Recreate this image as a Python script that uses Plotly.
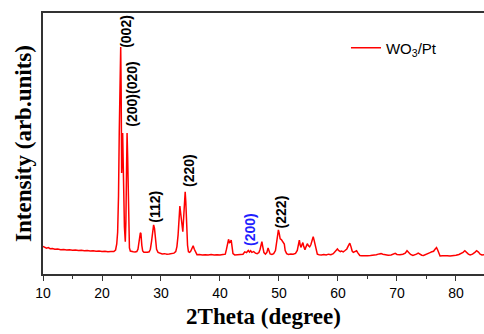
import plotly.graph_objects as go

two_theta = [
    10.0, 10.3, 10.6, 10.9, 11.2, 11.6, 12.0, 12.5, 13.0, 13.5, 14.0, 14.5, 15.0, 15.5, 16.0, 16.5,
    17.0, 17.5, 18.0, 18.5, 19.0, 19.5, 20.0, 20.5, 21.0, 21.5, 22.0, 22.3, 22.5, 22.65, 22.8, 22.93,
    23.05, 23.17, 23.25, 23.33, 23.42, 23.5, 23.58, 23.68, 23.8, 23.95, 24.05, 24.15, 24.25, 24.35,
    24.45, 24.55, 24.65, 24.8, 25.0, 25.3, 25.6, 25.9, 26.1, 26.3, 26.5, 26.6, 26.75, 26.9, 27.1,
    27.4, 27.7, 28.0, 28.2, 28.4, 28.6, 28.75, 28.9, 29.05, 29.25, 29.5, 29.8, 30.2, 30.6, 31.0,
    31.4, 31.8, 32.2, 32.5, 32.7, 32.9, 33.05, 33.2, 33.35, 33.55, 33.7, 33.85, 34.0, 34.1, 34.2,
    34.35, 34.5, 34.65, 34.85, 35.05, 35.25, 35.45, 35.65, 35.85, 36.1, 36.5, 37.0, 37.5, 38.0,
    38.5, 39.0, 39.5, 40.0, 40.5, 40.9, 41.1, 41.3, 41.45, 41.6, 41.75, 41.9, 42.05, 42.2, 42.5,
    43.0, 43.5, 43.9, 44.2, 44.5, 44.8, 45.0, 45.2, 45.4, 45.7, 46.0, 46.3, 46.6, 46.8, 47.0, 47.1,
    47.25, 47.45, 47.7, 47.95, 48.15, 48.3, 48.5, 48.8, 49.1, 49.4, 49.6, 49.8, 49.9, 50.05, 50.2,
    50.4, 50.55, 50.75, 50.9, 51.05, 51.3, 51.6, 52.0, 52.4, 52.8, 53.1, 53.3, 53.45, 53.6, 53.75,
    53.9, 54.05, 54.2, 54.4, 54.6, 54.8, 55.0, 55.2, 55.4, 55.6, 55.8, 55.95, 56.1, 56.3, 56.5,
    56.8, 57.2, 57.6, 58.0, 58.4, 58.8, 59.2, 59.5, 59.75, 59.9, 60.1, 60.4, 60.6, 60.9, 61.2, 61.5,
    61.75, 62.0, 62.2, 62.4, 62.6, 62.9, 63.15, 63.4, 63.7, 64.0, 64.5, 65.0, 65.5, 66.0, 66.5,
    67.0, 67.3, 67.6, 68.0, 68.5, 69.0, 69.4, 69.7, 70.0, 70.5, 71.0, 71.4, 71.7, 72.0, 72.3, 72.7,
    73.0, 73.3, 73.6, 73.9, 74.2, 74.5, 74.9, 75.3, 75.6, 75.9, 76.2, 76.45, 76.7, 76.9, 77.1, 77.3,
    77.7, 78.1, 78.5, 79.0, 79.5, 80.0, 80.5, 80.9, 81.2, 81.5, 81.8, 82.1, 82.4, 82.8, 83.2, 83.5,
    83.8, 84.1, 84.4, 84.7, 85.0,
]
intensity = [
    10.6, 10.2, 9.9, 10.1, 9.7, 9.8, 9.5, 9.6, 9.3, 9.4, 9.2, 9.3, 9.1, 9.2, 9.0, 9.1,
    8.9, 9.0, 8.8, 8.9, 8.7, 8.8, 8.6, 8.7, 8.5, 8.6, 8.6, 9.2, 11.5, 16.0, 30.0, 55.0,
    75.0, 87.0, 70.0, 38.7, 45.0, 54.0, 44.0, 30.0, 18.0, 12.4, 20.0, 38.0, 54.0, 45.0,
    28.0, 14.0, 10.0, 8.8, 8.6, 8.5, 8.4, 8.6, 9.5, 12.0, 15.8, 15.5, 11.0, 8.8, 8.3,
    8.2, 8.3, 8.5, 9.5, 12.5, 17.0, 18.8, 17.5, 13.0, 9.5, 8.3, 7.9, 7.7, 7.8, 7.6,
    7.7, 7.8, 8.0, 8.6, 10.5, 15.0, 22.0, 26.0, 23.0, 17.0, 16.2, 22.0, 29.0, 31.5, 28.0,
    18.0, 11.0, 8.5, 8.3, 8.8, 10.0, 10.8, 9.5, 8.2, 7.4, 7.5, 7.3, 7.4, 7.3,
    7.5, 7.3, 7.4, 7.3, 7.5, 7.6, 9.5, 12.5, 13.3, 12.0, 12.2, 13.0, 10.5, 7.8, 7.3,
    7.4, 7.3, 7.6, 8.5, 8.2, 9.0, 8.4, 8.9, 8.3, 8.6, 8.0, 7.8, 8.2, 9.5, 11.5, 12.4,
    10.5, 8.2, 7.6, 8.3, 10.0, 9.2, 7.7, 7.5, 7.8, 9.0, 12.0, 15.5, 16.9, 15.5, 13.5,
    13.2, 12.8, 12.0, 11.5, 9.0, 7.8, 7.5, 7.7, 7.6, 7.9, 9.0, 11.5, 13.0, 11.0, 10.2,
    11.3, 12.0, 10.5, 9.3, 10.5, 11.6, 10.8, 10.4, 11.2, 13.0, 14.3, 13.0, 11.5, 9.0, 7.6,
    7.4, 7.3, 7.5, 7.3, 7.6, 7.4, 7.8, 8.6, 9.4, 9.6, 9.0, 8.6, 8.8, 8.5, 9.0, 9.6,
    10.8, 11.8, 10.5, 8.8, 8.3, 8.7, 8.9, 8.0, 7.1, 7.0, 6.9, 7.0, 7.1, 7.2, 7.4,
    7.7, 7.8, 7.6, 7.4, 7.2, 7.3, 7.5, 7.9, 7.5, 7.4, 7.6, 8.0, 8.9, 8.0, 7.5, 7.1,
    7.3, 7.6, 8.0, 7.5, 7.2, 7.1, 7.4, 7.8, 8.2, 8.5, 8.7, 9.5, 10.1, 9.2, 7.6, 6.9,
    7.0, 7.1, 7.0, 6.9, 7.0, 7.2, 7.5, 7.8, 8.3, 8.9, 8.1, 7.6, 7.3, 7.6, 8.3, 8.9,
    8.4, 7.6, 7.3, 7.5, 7.4,
]

label_text = ["(002)", "(200)(020)", "(112)", "(220)", "(200)", "(222)"]
label_x = [23.95, 25.05, 29.0, 34.75, 45.1, 50.3]
label_y = [92.9, 69.0, 25.8, 39.5, 16.9, 23.9]
label_color = ["black", "black", "black", "black", "#1f1fff", "black"]

x_ticks = [10, 20, 30, 40, 50, 60, 70, 80]

fig = go.Figure()
fig.add_trace(go.Scatter(
    x=two_theta, y=intensity, mode="lines", name="WO<sub>3</sub>/Pt",
    line=dict(color="#ff0000", width=1.5),
))

for t, xv, yv, c in zip(label_text, label_x, label_y, label_color):
    fig.add_annotation(
        x=xv, y=yv, xref="x", yref="y", text="<b>" + t + "</b>", textangle=-90, showarrow=False,
        font=dict(family="Liberation Sans", size=14, color=c),
        xanchor="center", yanchor="middle",
    )

fig.update_layout(
    width=484, height=334,
    margin=dict(l=43, r=0, t=13, b=60),
    paper_bgcolor="white", plot_bgcolor="white",
    showlegend=True,
    legend=dict(
        x=0.687, y=0.866, xanchor="left", yanchor="middle",
        bgcolor="rgba(0,0,0,0)", borderwidth=0,
        font=dict(family="Liberation Sans", size=15, color="black"),
    ),
    xaxis=dict(
        range=[10, 84.75], tickmode="array", tickvals=x_ticks,
        ticks="outside", ticklen=5, tickwidth=1, tickcolor="#333333",
        minor=dict(ticks="outside", ticklen=3, dtick=5, tick0=0, tickcolor="#333333"),
        showline=True, linecolor="#333333", linewidth=1.5, mirror=True,
        showgrid=False, zeroline=False,
        tickfont=dict(family="Liberation Sans", size=14, color="black"),
        title=dict(text="2Theta (degree)", standoff=8,
                   font=dict(family="Liberation Serif", size=23, color="black", weight="bold")),
    ),
    yaxis=dict(
        range=[0, 100], showticklabels=False, ticks="",
        showline=True, linecolor="#333333", linewidth=1.5,
        showgrid=False, zeroline=False,
        title=dict(text="Intensity (arb.units)", standoff=3,
                   font=dict(family="Liberation Serif", size=23, color="black", weight="bold")),
    ),
)

fig.write_html("out.html")
